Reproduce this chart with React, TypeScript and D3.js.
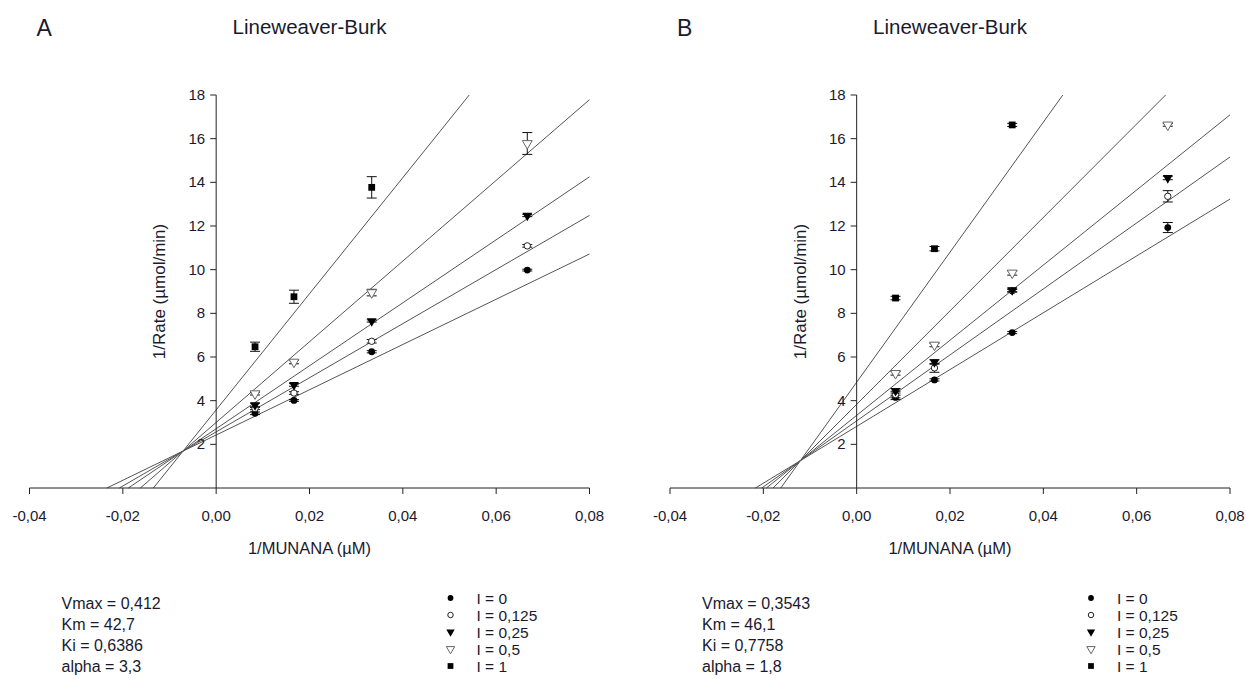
import * as d3 from "d3";

const inhibitorLevels = [0, 0.125, 0.25, 0.5, 1];
const levelLabels = ["I = 0", "I = 0,125", "I = 0,25", "I = 0,5", "I = 1"];
const substrateInv = [0.00833, 0.01667, 0.03333, 0.06667];

const xTicks = [-0.04, -0.02, 0, 0.02, 0.04, 0.06, 0.08];
const yTicks = [2, 4, 6, 8, 10, 12, 14, 16, 18];

// fitted parameters (mixed inhibition)
const paramsA = { vmax: 0.412, km: 42.7, ki: 0.6386, alpha: 3.3 };
const paramsB = { vmax: 0.3543, km: 46.1, ki: 0.7758, alpha: 1.8 };
const paramTextA = ["Vmax = 0,412", "Km = 42,7", "Ki = 0,6386", "alpha = 3,3"];
const paramTextB = ["Vmax = 0,3543", "Km = 46,1", "Ki = 0,7758", "alpha = 1,8"];

// mean 1/rate per inhibitor level (null = not plotted)
const meansA = [
  [3.42, 4.01, 6.24, 9.98],
  [3.64, 4.35, 6.72, 11.09],
  [3.8, 4.72, 7.65, 12.48],
  [4.32, 5.77, 8.95, 15.78],
  [6.47, 8.76, 13.77, null],
];
const errA = [
  [0.06, 0.04, 0.05, 0.04],
  [0.05, 0.06, 0.08, 0.06],
  [0.08, 0.06, 0.05, 0.05],
  [0.06, 0.08, 0.15, 0.5],
  [0.21, 0.3, 0.49, null],
];
const meansB = [
  [4.15, 4.95, 7.12, 11.93],
  [4.28, 5.5, 9.03, 13.36],
  [4.45, 5.77, 9.07, 14.2],
  [5.25, 6.55, 9.85, 16.63],
  [8.7, 10.96, 16.63, null],
];
const errB = [
  [0.1, 0.05, 0.05, 0.23],
  [0.15, 0.2, 0.06, 0.26],
  [0.1, 0.1, 0.08, 0.08],
  [0.08, 0.08, 0.1, 0.06],
  [0.08, 0.1, 0.07, null],
];

const FONT = "'Liberation Sans', Arial, sans-serif";
const TXT = "#1a1a2e";

const fmt = (v: number) => (v === 0 ? "0,00" : d3.format(".2f")(v).replace(".", ",").replace("−", "-"));

function Marker({ idx, x, y, s = 1 }: { idx: number; x: number; y: number; s?: number }) {
  const tr = `translate(${x},${y})`;
  if (idx === 0) return <circle cx={x} cy={y} r={3.4 * s} fill="#000" />;
  if (idx === 1) return <circle cx={x} cy={y} r={3.2 * s} fill="#fff" stroke="#222" strokeWidth={1} />;
  const tri = d3.symbol().type(d3.symbolTriangle).size(42 * s * s)()!;
  if (idx === 2) return <path d={tri} transform={`${tr} rotate(180)`} fill="#000" />;
  if (idx === 3)
    return <path d={tri} transform={`${tr} rotate(180)`} fill="#fff" stroke="#666" strokeWidth={1} />;
  const sq = d3.symbol().type(d3.symbolSquare).size(46 * s * s)()!;
  return <path d={sq} transform={tr} fill="#000" />;
}

function Panel({
  letter,
  x0,
  params,
  paramText,
  means,
  errs,
}: {
  letter: string;
  x0: number;
  params: typeof paramsA;
  paramText: string[];
  means: (number | null)[][];
  errs: (number | null)[][];
}) {
  const x = d3.scaleLinear().domain([-0.04, 0.08]).range([x0, x0 + 560]);
  const y = d3.scaleLinear().domain([0, 18]).range([488, 95]);
  const zx = x(0);

  const lines = inhibitorLevels.map((I) => {
    const slope = (params.km / params.vmax) * (1 + I / params.ki);
    const icpt = (1 / params.vmax) * (1 + I / (params.alpha * params.ki));
    const xs = -icpt / slope;
    const xe = Math.min(0.08, (18 - icpt) / slope);
    return [
      [xs, 0],
      [xe, icpt + slope * xe],
    ] as [number, number][];
  });
  const lineGen = d3
    .line<[number, number]>()
    .x((d) => x(d[0]))
    .y((d) => y(d[1]));

  const mid = (x0 + x0 + 560) / 2;

  return (
    <g fontFamily={FONT}>
      <text x={x0 + 7} y={36} fontSize={23} fill={TXT}>
        {letter}
      </text>
      <text x={mid} y={34} fontSize={20.5} fill={TXT} textAnchor="middle">
        Lineweaver-Burk
      </text>

      {lines.map((l, i) => (
        <path key={i} d={lineGen(l)!} fill="none" stroke="#555" strokeWidth={1} />
      ))}

      {/* x axis */}
      <line x1={x(-0.04)} x2={x(0.08)} y1={y(0)} y2={y(0)} stroke="#222" />
      {xTicks.map((t) => (
        <g key={t}>
          <line x1={x(t)} x2={x(t)} y1={y(0)} y2={y(0) + 6} stroke="#222" />
          <text x={x(t)} y={y(0) + 33} fontSize={15} fill={TXT} textAnchor="middle">
            {fmt(t)}
          </text>
        </g>
      ))}
      {/* y axis */}
      <line x1={zx} x2={zx} y1={y(0)} y2={y(18)} stroke="#222" />
      {yTicks.map((t) => (
        <g key={t}>
          <line x1={zx - 6} x2={zx} y1={y(t)} y2={y(t)} stroke="#222" />
          <text x={zx - 11} y={y(t) + 5} fontSize={15} fill={TXT} textAnchor="end">
            {t}
          </text>
        </g>
      ))}
      <text
        transform={`translate(${zx - 51},${(y(0) + y(18)) / 2}) rotate(-90)`}
        fontSize={17}
        fill={TXT}
        textAnchor="middle"
      >
        1/Rate (µmol/min)
      </text>
      <text x={mid} y={554} fontSize={16.5} fill={TXT} textAnchor="middle">
        1/MUNANA (µM)
      </text>

      {/* data */}
      {means.map((row, i) =>
        row.map((v, j) => {
          if (v == null) return null;
          const e = errs[i][j] || 0;
          const px = x(substrateInv[j]);
          return (
            <g key={`${i}-${j}`}>
              {e > 0 && (
                <g stroke="#111" strokeWidth={1}>
                  <line x1={px} x2={px} y1={y(v - e)} y2={y(v + e)} />
                  <line x1={px - 5} x2={px + 5} y1={y(v - e)} y2={y(v - e)} />
                  <line x1={px - 5} x2={px + 5} y1={y(v + e)} y2={y(v + e)} />
                </g>
              )}
              <Marker idx={i} x={px} y={y(v)} />
            </g>
          );
        })
      )}

      {/* parameters */}
      {paramText.map((t, i) => (
        <text key={t} x={x0 + 32} y={609 + i * 21} fontSize={16} fill={TXT}>
          {t}
        </text>
      ))}

      {/* legend */}
      {levelLabels.map((t, i) => (
        <g key={t}>
          <Marker idx={i} x={x0 + 421} y={598 + i * 17} s={0.85} />
          <text x={x0 + 447} y={604 + i * 17} fontSize={15.5} fill={TXT}>
            {t}
          </text>
        </g>
      ))}
    </g>
  );
}

export default function App() {
  return (
    <svg
      width={1246}
      height={679}
      style={{ position: "absolute", left: 0, top: 0, background: "#fff" }}
    >
      <Panel letter="A" x0={29.5} params={paramsA} paramText={paramTextA} means={meansA} errs={errA} />
      <Panel letter="B" x0={670} params={paramsB} paramText={paramTextB} means={meansB} errs={errB} />
    </svg>
  );
}
